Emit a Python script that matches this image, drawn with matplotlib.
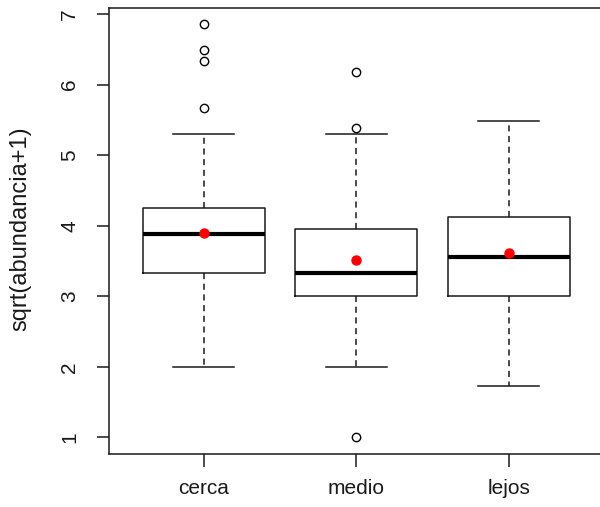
#!/usr/bin/env python3
"""
Boxplot of sqrt(abundancia+1) by distance class, R base-graphics look
"""

import matplotlib
matplotlib.use("Agg")
import matplotlib.pyplot as plt

# data
groups = ["cerca", "medio", "lejos"]
q1 = [3.333, 3.0, 3.0]
medians = [3.887, 3.333, 3.551]
q3 = [4.256, 3.948, 4.118]
whisker_low = [2.0, 2.0, 1.734]
whisker_high = [5.30, 5.30, 5.48]
means = [3.90, 3.508, 3.607]
outliers = [
    [5.661, 6.333, 6.493, 6.862],
    [5.385, 6.172, 1.0],
    [],
]
yticks = [1, 2, 3, 4, 5, 6, 7]

plt.rcParams["font.family"] = ["Liberation Sans", "DejaVu Sans"]

W, H = 600, 507
fig = plt.figure(figsize=(W / 100, H / 100), dpi=100)
# plot region in pixels: left 109, top 8, bottom 454, right edge past the image
ax = fig.add_axes([109 / W, 1 - 454 / H, (603.5 - 109) / W, (454 - 8) / H])

stats = []
for i, g in enumerate(groups):
    stats.append({
        "label": g,
        "q1": q1[i], "med": medians[i], "q3": q3[i],
        "whislo": whisker_low[i], "whishi": whisker_high[i],
        "mean": means[i], "fliers": outliers[i],
    })

positions = list(range(1, len(groups) + 1))
ax.bxp(
    stats, positions=positions, widths=0.8,
    showmeans=True, meanline=False, showcaps=True, showfliers=True,
    boxprops=dict(color="#1a1a1a", linewidth=1.1),
    medianprops=dict(color="black", linewidth=3.0, solid_capstyle="butt"),
    whiskerprops=dict(color="#1a1a1a", linewidth=1.1, linestyle=(0, (4, 3))),
    capprops=dict(color="#1a1a1a", linewidth=1.1),
    capwidths=0.4,
    meanprops=dict(marker="o", markerfacecolor="#ff0000", markeredgecolor="#ff0000",
                   markersize=6.5),
    flierprops=dict(marker="o", markerfacecolor="none", markeredgecolor="black",
                    markersize=6, markeredgewidth=1.0),
)

ax.set_xlim(0.38, 3.62)
ax.set_ylim(0.766, 7.084)
ax.set_yticks(yticks)
ax.set_yticklabels([str(t) for t in yticks])
ax.set_xticks(positions)
ax.set_xticklabels(groups)

for side in ["top", "bottom", "left", "right"]:
    ax.spines[side].set_linewidth(1.1)
    ax.spines[side].set_color("#1a1a1a")

ax.tick_params(axis="y", direction="out", length=8.6, width=1.1, pad=13,
               labelsize=15, labelrotation=90, colors="#1a1a1a")
ax.tick_params(axis="x", direction="out", length=9.3, width=1.1, pad=9,
               labelsize=15, colors="#1a1a1a")
for lab in ax.get_yticklabels():
    lab.set_verticalalignment("center")

fig.text(20 / W, 1 - 229 / H, "sqrt(abundancia+1)", rotation=90,
         ha="center", va="center", fontsize=17, color="#1a1a1a")

fig.savefig("out.png", dpi=100)
